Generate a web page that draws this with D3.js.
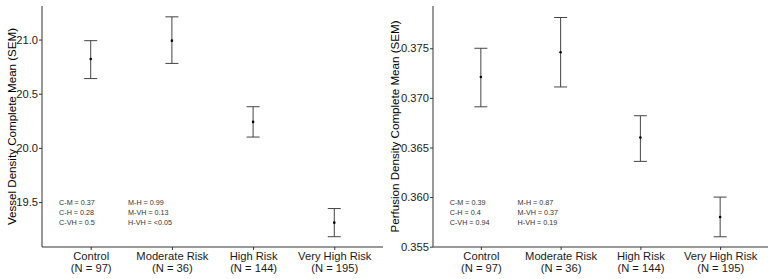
<!DOCTYPE html>
<html>
<head>
<meta charset="utf-8">
<script src="https://cdnjs.cloudflare.com/ajax/libs/d3/7.8.5/d3.min.js"></script>
<style>
  body { margin: 0; background: #fff; }
  svg text { font-family: Arial, "Liberation Sans", sans-serif; }
</style>
</head>
<body>
<svg id="chart" width="772" height="279"></svg>
<script>
// groups and sample sizes
var groups = ["Control", "Moderate Risk", "High Risk", "Very High Risk"];
var groupN = [97, 36, 144, 195];

// vessel density: mean, low, high (mean +- SEM)
var vdMean = [20.82, 20.99, 20.24, 19.31];
var vdLow  = [20.64, 20.78, 20.10, 19.18];
var vdHigh = [20.99, 21.21, 20.38, 19.44];
var vdTicks = [19.5, 20.0, 20.5, 21.0];
var vdPairs1 = ["C-M = 0.37", "C-H = 0.28", "C-VH = 0.5"];
var vdPairs2 = ["M-H = 0.99", "M-VH = 0.13", "H-VH = <0.05"];

// perfusion density
var pdMean = [0.3721, 0.3746, 0.3660, 0.3580];
var pdLow  = [0.3691, 0.3711, 0.3636, 0.3560];
var pdHigh = [0.3750, 0.3781, 0.3682, 0.3600];
var pdTicks = [0.355, 0.360, 0.365, 0.370, 0.375];
var pdPairs1 = ["C-M = 0.39", "C-H = 0.4", "C-VH = 0.94"];
var pdPairs2 = ["M-H = 0.87", "M-VH = 0.37", "H-VH = 0.19"];

var svg = d3.select("#chart");

var panels = [
    {left: 42, right: 383, top: 6, bottom: 247, domain: [19.085, 21.31],
     mean: vdMean, low: vdLow, high: vdHigh, ticks: vdTicks, fmt: d3.format(".1f"),
     title: "Vessel Density Complete Mean (SEM)", titleX: 12,
     p1: vdPairs1, p2: vdPairs2},
    {left: 433, right: 768, top: 6, bottom: 247, domain: [0.35497, 0.37926],
     mean: pdMean, low: pdLow, high: pdHigh, ticks: pdTicks, fmt: d3.format(".3f"),
     title: "Perfusion Density Complete Mean (SEM)", titleX: 395,
     p1: pdPairs1, p2: pdPairs2}
];

panels.forEach(function(p) {
    var g = svg.append("g");
    var unit = (p.right - p.left) / (groups.length - 1 + 1.2);
    var x = d3.scalePoint()
        .domain(groups)
        .range([p.left + 0.6 * unit, p.right - 0.6 * unit]);
    var y = d3.scaleLinear()
        .domain(p.domain)
        .range([p.bottom, p.top]);

    var data = groups.map(function(name, i) {
        return {name: name, n: groupN[i], mean: p.mean[i], low: p.low[i], high: p.high[i]};
    });

    // axes
    var yAxis = g.append("g")
        .attr("transform", "translate(" + p.left + ",0)")
        .call(d3.axisLeft(y).tickValues(p.ticks).tickFormat(p.fmt).tickSize(3).tickSizeOuter(0));
    yAxis.select(".domain").attr("stroke", "#333").attr("d", "M0," + p.top + "V" + p.bottom);
    yAxis.selectAll(".tick line").attr("stroke", "#333");
    yAxis.selectAll(".tick text").attr("font-size", 11.2).attr("fill", "#1a1a1a").attr("x", -4);

    var xAxis = g.append("g")
        .attr("transform", "translate(0," + p.bottom + ")")
        .call(d3.axisBottom(x).tickSize(3).tickSizeOuter(0));
    xAxis.select(".domain").attr("stroke", "#333").attr("d", "M" + p.left + ",0H" + p.right);
    xAxis.selectAll(".tick line").attr("stroke", "#333");
    xAxis.selectAll(".tick text").remove();
    xAxis.selectAll(".tick").each(function(d, i) {
        var t = d3.select(this).append("text")
            .attr("fill", "#1a1a1a")
            .attr("font-size", 11.2)
            .attr("text-anchor", "middle");
        t.append("tspan").attr("x", 0).attr("y", 13).text(d);
        t.append("tspan").attr("x", 0).attr("y", 25).text("(N = " + groupN[i] + ")");
    });

    // y title
    g.append("text")
        .attr("transform", "translate(" + p.titleX + "," + ((p.top + p.bottom) / 2) + ") rotate(-90)")
        .attr("dy", "0.35em")
        .attr("text-anchor", "middle")
        .attr("font-size", 11.6)
        .attr("fill", "#000")
        .text(p.title);

    // error bars
    var cap = 6.5;
    var bars = g.selectAll(".err").data(data).enter().append("g").attr("class", "err");
    bars.append("line")
        .attr("x1", d => x(d.name)).attr("x2", d => x(d.name))
        .attr("y1", d => y(d.low)).attr("y2", d => y(d.high))
        .attr("stroke", "#444").attr("stroke-width", 1);
    bars.append("line")
        .attr("x1", d => x(d.name) - cap).attr("x2", d => x(d.name) + cap)
        .attr("y1", d => y(d.high)).attr("y2", d => y(d.high))
        .attr("stroke", "#444").attr("stroke-width", 1);
    bars.append("line")
        .attr("x1", d => x(d.name) - cap).attr("x2", d => x(d.name) + cap)
        .attr("y1", d => y(d.low)).attr("y2", d => y(d.low))
        .attr("stroke", "#444").attr("stroke-width", 1);
    bars.append("circle")
        .attr("cx", d => x(d.name)).attr("cy", d => y(d.mean))
        .attr("r", 1.3).attr("fill", "#000");

    // pairwise p-values
    var x0 = x(groups[0]);
    [p.p1, p.p2].forEach(function(col, c) {
        var cx = x0 + (c === 0 ? -0.39 : 0.46) * unit;
        col.forEach(function(s, r) {
            g.append("text")
                .attr("x", cx)
                .attr("y", p.bottom - 45 + r * 10)
                .attr("dy", "0.35em")
                .attr("font-size", 7.2)
                .attr("fill", "#333")
                .text(s);
        });
    });
});
</script>
</body>
</html>
